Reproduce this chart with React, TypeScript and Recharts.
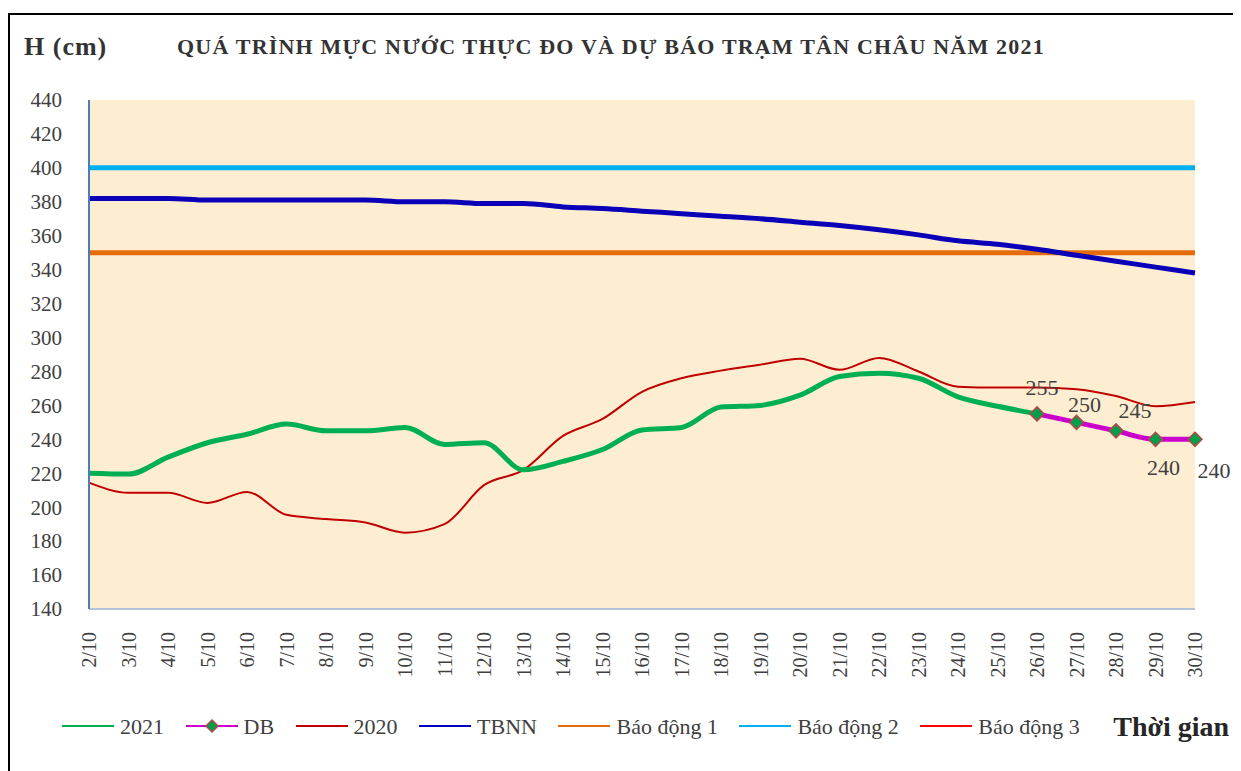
import React from 'react';
import { LineChart, Line, XAxis, YAxis, CartesianGrid, Legend } from 'recharts';

const categories = ['2/10','3/10','4/10','5/10','6/10','7/10','8/10','9/10','10/10','11/10','12/10','13/10','14/10','15/10','16/10','17/10','18/10','19/10','20/10','21/10','22/10','23/10','24/10','25/10','26/10','27/10','28/10','29/10','30/10'];
const s2021 = [220, 219.5, 229.5, 238, 243, 249, 245, 245, 247, 237, 238, 222, 227, 234, 245.5, 247, 259, 260, 266, 277, 279, 276, 265, 259.5, 255, null, null, null, null];
const sDB = [null, null, null, null, null, null, null, null, null, null, null, null, null, null, null, null, null, null, null, null, null, null, null, null, 255, 250, 245, 240, 240];
const s2020 = [214.5, 208.5, 208.5, 202.5, 209, 195.5, 193, 191, 185, 190, 213, 222, 242, 252, 268, 276, 280.5, 284, 287.5, 281, 288, 280, 271, 270.5, 270.5, 269.5, 265.5, 259.5, 262];
const sTBNN = [382, 382, 382, 381, 381, 381, 381, 381, 380, 380, 379, 379, 377, 376, 374.5, 373, 371.5, 370, 368, 366, 363.5, 360.5, 357, 355, 352, 348.5, 345, 341.5, 338];
const alarm1 = 350;
const alarm2 = 400;
const alarm3 = 450;
const yTicks = [140, 160, 180, 200, 220, 240, 260, 280, 300, 320, 340, 360, 380, 400, 420, 440];

const data = categories.map((c, i) => ({
  date: c,
  y2021: s2021[i],
  db: sDB[i],
  y2020: s2020[i],
  tbnn: sTBNN[i],
  bd1: alarm1,
  bd2: alarm2,
  bd3: alarm3,
}));

const FONT = '"Liberation Serif", "Times New Roman", serif';
const TXT = '#404040';
const textStyle = { fontFamily: FONT, fontSize: 22, fill: TXT } as React.CSSProperties;

const XTick = (props: any) => {
  const { x, y, payload } = props;
  return (
    <text x={x} y={y} transform={`rotate(-90, ${x}, ${y})`} textAnchor="end" dy="0.35em" style={{ ...textStyle, fontSize: 20 }}>
      {payload.value}
    </text>
  );
};

const YTick = (props: any) => {
  const { x, y, payload } = props;
  return (
    <text x={x} y={y} textAnchor="end" dy="0.35em" style={{ ...textStyle, fontSize: 21 }}>
      {payload.value}
    </text>
  );
};

const Diamond = (props: any) => {
  const { cx, cy } = props;
  if (cx == null || cy == null || props.value == null) return null;
  const r = 7;
  return (
    <polygon points={`${cx},${cy - r} ${cx + r},${cy} ${cx},${cy + r} ${cx - r},${cy}`} fill="#00A04A" stroke="#B5474A" strokeWidth={1.5} />
  );
};

const labelOffsets = [
  [5, -27],
  [8, -18],
  [19, -21],
  [8, 28],
  [19, 31],
];

const DBLabel = (props: any) => {
  const { x, y, value, index } = props;
  if (value == null) return null;
  const k = index - 24;
  const off = labelOffsets[k] || [0, -20];
  return (
    <text x={x + off[0]} y={y + off[1]} textAnchor="middle" dy="0.35em" style={textStyle}>
      {value}
    </text>
  );
};

const legendItems = [
  { name: '2021', color: '#00B050', marker: false },
  { name: 'DB', color: '#CC00CC', marker: true },
  { name: '2020', color: '#C00000', marker: false },
  { name: 'TBNN', color: '#0000C0', marker: false },
  { name: 'Báo động 1', color: '#E46C0A', marker: false },
  { name: 'Báo động 2', color: '#00B0F0', marker: false },
  { name: 'Báo động 3', color: '#FF0000', marker: false },
];

const LegendContent = () => (
  <div style={{ display: 'flex', alignItems: 'center', height: 30, fontFamily: FONT, fontSize: 22, color: TXT, whiteSpace: 'nowrap' }}>
    {legendItems.map((it) => (
      <div key={it.name} style={{ display: 'flex', alignItems: 'center', marginRight: 21.5 }}>
        <svg width={52} height={16} style={{ marginRight: 6 }}>
          <line x1={0} y1={7} x2={52} y2={7} stroke={it.color} strokeWidth={2} />
          {it.marker && <polygon points="26,1 32,7 26,13 20,7" fill="#00A04A" stroke="#B5474A" strokeWidth={1.5} />}
        </svg>
        <span style={{ fontFamily: FONT }}>{it.name}</span>
      </div>
    ))}
    <span style={{ fontFamily: FONT, fontWeight: 'bold', fontSize: 28, color: '#262626', marginLeft: 12 }}>Thời gian</span>
  </div>
);

export default function App() {
  return (
    <div style={{ position: 'relative', width: 1233, height: 763, overflow: 'hidden', background: '#fff', fontFamily: FONT }}>
      <div style={{ position: 'absolute', left: 0, top: 5, width: 1400, height: 900, border: '2px solid #000', boxSizing: 'border-box' }} />
      <div style={{ position: 'absolute', left: 16, top: 24, fontFamily: FONT, fontWeight: 'bold', fontSize: 26, color: '#333', letterSpacing: 1 }}>H (cm)</div>
      <div style={{ position: 'absolute', left: 169, top: 26, fontFamily: FONT, fontWeight: 'bold', fontSize: 22, color: '#333', letterSpacing: 1.2, whiteSpace: 'nowrap' }}>
        QUÁ TRÌNH MỰC NƯỚC THỰC ĐO VÀ DỰ BÁO TRẠM TÂN CHÂU NĂM 2021
      </div>
      <div style={{ position: 'absolute', left: 0, top: 0 }}>
        <LineChart width={1233} height={763} data={data} margin={{ top: 92, right: 46, bottom: 32, left: 0 }}>
          <CartesianGrid horizontal={false} vertical={false} fill="#FDEED2" />
          <XAxis dataKey="date" interval={0} height={100} tick={<XTick />} tickLine={false} tickSize={6} tickMargin={17} axisLine={{ stroke: '#B4C4D8', strokeWidth: 2 }} />
          <XAxis xAxisId="top" dataKey="date" orientation="top" height={0} tick={false} tickLine={false} axisLine={{ stroke: '#8DA6C6', strokeWidth: 1.5 }} />
          <YAxis domain={[140, 440]} ticks={yTicks} allowDataOverflow width={81} interval={0} tickLine={false} tickMargin={21} axisLine={{ stroke: '#4A7EBB', strokeWidth: 2 }} tick={<YTick />} />
          <YAxis yAxisId="right" orientation="right" domain={[140, 440]} allowDataOverflow width={0} tick={false} tickLine={false} axisLine={{ stroke: '#4A7EBB', strokeWidth: 2 }} />
          <Legend verticalAlign="bottom" content={<LegendContent />} wrapperStyle={{ left: 54, top: 704, bottom: 'auto', width: 1200 }} />
          <Line type="monotone" dataKey="bd2" name="Báo động 2" stroke="#00B0F0" strokeWidth={5} dot={false} isAnimationActive={false} />
          <Line type="monotone" dataKey="bd1" name="Báo động 1" stroke="#E46C0A" strokeWidth={5} dot={false} isAnimationActive={false} />
          <Line type="monotone" dataKey="bd3" name="Báo động 3" stroke="#FF0000" strokeWidth={2} dot={false} isAnimationActive={false} />
          <Line type="monotone" dataKey="tbnn" name="TBNN" stroke="#0A00B8" strokeWidth={5} dot={false} isAnimationActive={false} />
          <Line type="monotone" dataKey="y2020" name="2020" stroke="#C00000" strokeWidth={2} dot={false} isAnimationActive={false} />
          <Line type="monotone" dataKey="y2021" name="2021" stroke="#00B050" strokeWidth={5} dot={false} isAnimationActive={false} />
          <Line type="monotone" dataKey="db" name="DB" stroke="#CC00CC" strokeWidth={5} dot={<Diamond />} label={<DBLabel />} isAnimationActive={false} />
        </LineChart>
      </div>
    </div>
  );
}
